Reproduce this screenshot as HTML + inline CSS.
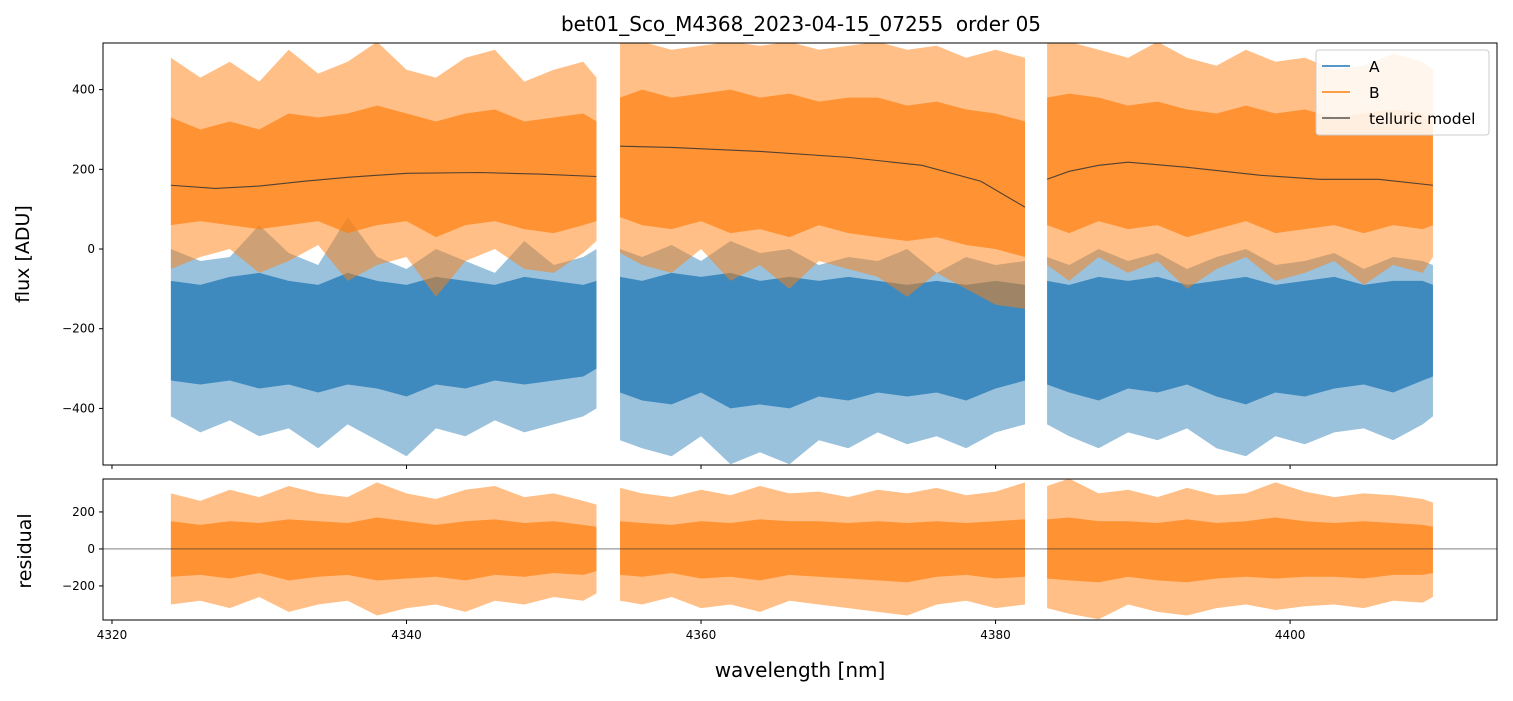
<!DOCTYPE html>
<html><head><meta charset="utf-8"><style>
body{margin:0;background:#fff;}
svg text{font-family:"DejaVu Sans","Liberation Sans",sans-serif;}
</style></head><body>
<svg id="c" width="1513" height="696" viewBox="0 0 1513 696" xmlns="http://www.w3.org/2000/svg"></svg>
<script>
// ---- data (envelopes) ----
const segWl = [
 [4324,4326,4328,4330,4332,4334,4336,4338,4340,4342,4344,4346,4348,4350,4352,4352.9],
 [4354.5,4356,4358,4360,4362,4364,4366,4368,4370,4372,4374,4376,4378,4380,4382],
 [4383.5,4385,4387,4389,4391,4393,4395,4397,4399,4401,4403,4405,4407,4409,4409.7]
];
const bHi = [
 [480,430,470,420,500,440,470,520,450,430,480,500,420,450,470,430],
 [520,520,500,510,520,510,520,500,510,520,500,510,480,500,480],
 [520,520,500,480,520,480,460,500,470,480,450,460,490,470,450]
];
const bLo = [
 [-50,-20,0,-60,-30,10,-80,-40,-20,-120,-30,0,-50,-60,-10,20],
 [-10,-40,-60,0,-80,-40,-100,-30,-50,-70,-120,-60,-100,-140,-150],
 [-40,-80,-20,-60,-30,-100,-50,-20,-80,-60,-30,-90,-40,-60,-20]
];
const bCoreHi = [
 [330,300,320,300,340,330,340,360,340,320,340,350,320,330,340,320],
 [380,400,380,390,400,380,390,370,380,380,360,370,350,340,320],
 [380,390,380,360,370,350,340,360,340,350,330,340,350,340,320]
];
const bCoreLo = [
 [60,70,60,50,60,70,40,60,70,30,60,70,50,40,60,70],
 [80,60,50,70,40,50,30,60,40,30,20,30,10,0,-20],
 [60,40,70,50,60,30,50,70,40,50,60,40,60,50,60]
];
const aHi = [
 [0,-30,-20,60,-10,-40,80,-20,-50,0,-30,-60,20,-40,-20,0],
 [0,-20,10,-30,20,-10,0,-40,-20,-30,0,-60,-20,-40,-30],
 [-20,-40,0,-30,-10,-50,-20,0,-40,-30,-10,-50,-20,-30,-40]
];
const aLo = [
 [-420,-460,-430,-470,-450,-500,-440,-480,-520,-450,-470,-430,-460,-440,-420,-400],
 [-480,-500,-520,-470,-540,-510,-540,-480,-500,-460,-490,-470,-500,-460,-440],
 [-440,-470,-500,-460,-480,-450,-500,-520,-470,-490,-460,-450,-480,-440,-420]
];
const aCoreHi = [
 [-80,-90,-70,-60,-80,-90,-60,-80,-90,-70,-80,-90,-70,-80,-90,-80],
 [-70,-80,-60,-70,-60,-80,-70,-80,-70,-80,-90,-80,-90,-80,-90],
 [-80,-90,-70,-80,-70,-90,-80,-70,-90,-80,-70,-90,-80,-80,-90]
];
const aCoreLo = [
 [-330,-340,-330,-350,-340,-360,-340,-350,-370,-340,-350,-330,-340,-330,-320,-300],
 [-360,-380,-390,-360,-400,-390,-400,-370,-380,-360,-370,-360,-380,-350,-330],
 [-340,-360,-380,-350,-360,-340,-370,-390,-360,-370,-350,-340,-360,-330,-320]
];
const rHi = [
 [300,260,320,280,340,300,280,360,300,270,320,340,280,300,260,240],
 [330,300,280,320,290,340,300,310,280,320,300,330,290,310,360],
 [340,380,300,320,280,330,290,300,360,310,280,300,290,270,250]
];
const rLo = [
 [-300,-280,-320,-260,-340,-300,-280,-360,-320,-300,-340,-280,-300,-260,-280,-240],
 [-280,-300,-260,-320,-300,-340,-280,-300,-320,-340,-360,-300,-280,-320,-300],
 [-320,-350,-380,-300,-340,-360,-320,-300,-330,-310,-300,-320,-280,-290,-260]
];
const rCoreHi = [
 [150,130,150,140,160,150,140,170,150,130,150,160,140,150,130,120],
 [150,140,130,150,140,160,150,150,140,150,140,150,140,150,160],
 [160,170,150,150,140,160,140,150,170,150,140,150,140,130,120]
];
const rCoreLo = [
 [-150,-140,-160,-130,-170,-150,-140,-170,-160,-150,-170,-140,-150,-130,-140,-120],
 [-140,-150,-130,-160,-150,-170,-140,-150,-160,-170,-180,-150,-140,-160,-150],
 [-160,-170,-180,-150,-170,-180,-160,-150,-160,-150,-150,-160,-140,-140,-130]
];
const modelWl = [
 [4324,4327,4330,4333,4336,4340,4345,4349,4352.9],
 [4354.5,4358,4364,4370,4375,4379,4382],
 [4383.5,4385,4387,4389,4393,4398,4402,4406,4409.7]
];
const modelVal = [
 [160,152,158,170,180,190,192,188,182],
 [258,255,245,230,210,170,105],
 [175,195,210,218,205,185,175,175,160]
];
const xTicks = [4320,4340,4360,4380,4400];
const yTicksTop = [400,200,0,-200,-400];
const yTicksBot = [200,0,-200];

// ---- axes ----
const X0=103,X1=1497, wMin=4319.39, wMax=4414.05;
const T0=43,T1=465, tMax=517, tMin=-542;
const B0=479,B1=620, bMax=378, bMin=-384;
const sx=w=>X0+(w-wMin)/(wMax-wMin)*(X1-X0);
const syT=v=>T0+(tMax-v)/(tMax-tMin)*(T1-T0);
const syB=v=>B0+(bMax-v)/(bMax-bMin)*(B1-B0);

const svg=document.getElementById('c');
const NS='http://www.w3.org/2000/svg';
function mk(tag,attrs,parent){const e=document.createElementNS(NS,tag);for(const k in attrs)e.setAttribute(k,attrs[k]);(parent||svg).appendChild(e);return e;}

const defs=mk('defs',{});
const c1=mk('clipPath',{id:'ct'},defs);mk('rect',{x:X0,y:T0,width:X1-X0,height:T1-T0},c1);
const c2=mk('clipPath',{id:'cb'},defs);mk('rect',{x:X0,y:B0,width:X1-X0,height:B1-B0},c2);
const gT=mk('g',{'clip-path':'url(#ct)'});


const gB=mk('g',{'clip-path':'url(#cb)'});



function band(g,wl,hi,lo,sy,color,op,name){
  let pts=[];
  for(let i=0;i<wl.length;i++)pts.push(sx(wl[i])+','+sy(hi[i]));
  for(let i=wl.length-1;i>=0;i--)pts.push(sx(wl[i])+','+sy(lo[i]));
  const p=mk('polygon',{points:pts.join(' '),fill:color,'fill-opacity':op,stroke:'none'},g);
  
  
}
for(let s=0;s<3;s++){
  band(gT,segWl[s],aHi[s],aLo[s],syT,'#1f77b4',0.45,'series-a-spikes-'+(s+1));
  band(gT,segWl[s],aCoreHi[s],aCoreLo[s],syT,'#1f77b4',0.75,'series-a-segment-'+(s+1));
}
for(let s=0;s<3;s++){
  band(gT,segWl[s],bHi[s],bLo[s],syT,'#ff7f0e',0.5,'series-b-spikes-'+(s+1));
  band(gT,segWl[s],bCoreHi[s],bCoreLo[s],syT,'#ff7f0e',0.7,'series-b-segment-'+(s+1));
}
for(let s=0;s<3;s++){
  const pts=modelWl[s].map((w,i)=>sx(w)+','+syT(modelVal[s][i])).join(' ');
  const l=mk('polyline',{points:pts,fill:'none',stroke:'#333','stroke-width':1.1,'stroke-opacity':0.85},gT);
  
  
}
for(let s=0;s<3;s++){
  band(gB,segWl[s],rHi[s],rLo[s],syB,'#ff7f0e',0.5,'residual-spikes-'+(s+1));
  band(gB,segWl[s],rCoreHi[s],rCoreLo[s],syB,'#ff7f0e',0.7,'residual-segment-'+(s+1));
}
const zl=mk('line',{x1:X0,x2:X1,y1:syB(0),y2:syB(0),stroke:'#333','stroke-width':0.6},gB);



const f1=mk('rect',{x:X0,y:T0,width:X1-X0,height:T1-T0,fill:'none',stroke:'#000','stroke-width':1});


const f2=mk('rect',{x:X0,y:B0,width:X1-X0,height:B1-B0,fill:'none',stroke:'#000','stroke-width':1});



xTicks.forEach(t=>{
  const x=sx(t);
  mk('line',{x1:x,x2:x,y1:T1,y2:T1+4,stroke:'#000'});
  mk('line',{x1:x,x2:x,y1:B1,y2:B1+4,stroke:'#000'});
  const tx=mk('text',{x:x,y:B1+19,'font-size':12,'text-anchor':'middle'});tx.textContent=t;
  
  
});
yTicksTop.forEach(t=>{
  const y=syT(t);
  mk('line',{x1:X0-4,x2:X0,y1:y,y2:y,stroke:'#000'});
  const tx=mk('text',{x:X0-8,y:y+4,'font-size':12,'text-anchor':'end'});tx.textContent=t===0?'0':(t<0?'\u2212'+(-t):t);
  
  
});
yTicksBot.forEach(t=>{
  const y=syB(t);
  mk('line',{x1:X0-4,x2:X0,y1:y,y2:y,stroke:'#000'});
  const tx=mk('text',{x:X0-8,y:y+4,'font-size':12,'text-anchor':'end'});tx.textContent=t===0?'0':(t<0?'\u2212'+(-t):t);
  
  
});

let t=mk('text',{x:801,y:31,'font-size':20,'text-anchor':'middle'});t.textContent='bet01_Sco_M4368_2023-04-15_07255  order 05';

t.style.whiteSpace='pre';
t=mk('text',{x:800,y:677,'font-size':20,'text-anchor':'middle'});t.textContent='wavelength [nm]';

t=mk('text',{x:0,y:0,'font-size':19,'text-anchor':'middle',transform:'translate(29,254) rotate(-90)'});t.textContent='flux [ADU]';

t=mk('text',{x:0,y:0,'font-size':19,'text-anchor':'middle',transform:'translate(31,551) rotate(-90)'});t.textContent='residual';


const lg=mk('g',{});


mk('rect',{x:1316,y:50,width:173,height:85,rx:3,fill:'#fff','fill-opacity':0.85,stroke:'#ccc'},lg);
const items=[['A','#1f77b4',1.5],['B','#ff7f0e',1.5],['telluric model','#333',1.2]];
items.forEach((it,i)=>{
  const y=66+i*26;
  mk('line',{x1:1322,x2:1350,y1:y,y2:y,stroke:it[1],'stroke-width':it[2]},lg);
  const tx=mk('text',{x:1369,y:y+6,'font-size':15.5},lg);tx.textContent=it[0];
  
  
});
</script>
</body></html>
